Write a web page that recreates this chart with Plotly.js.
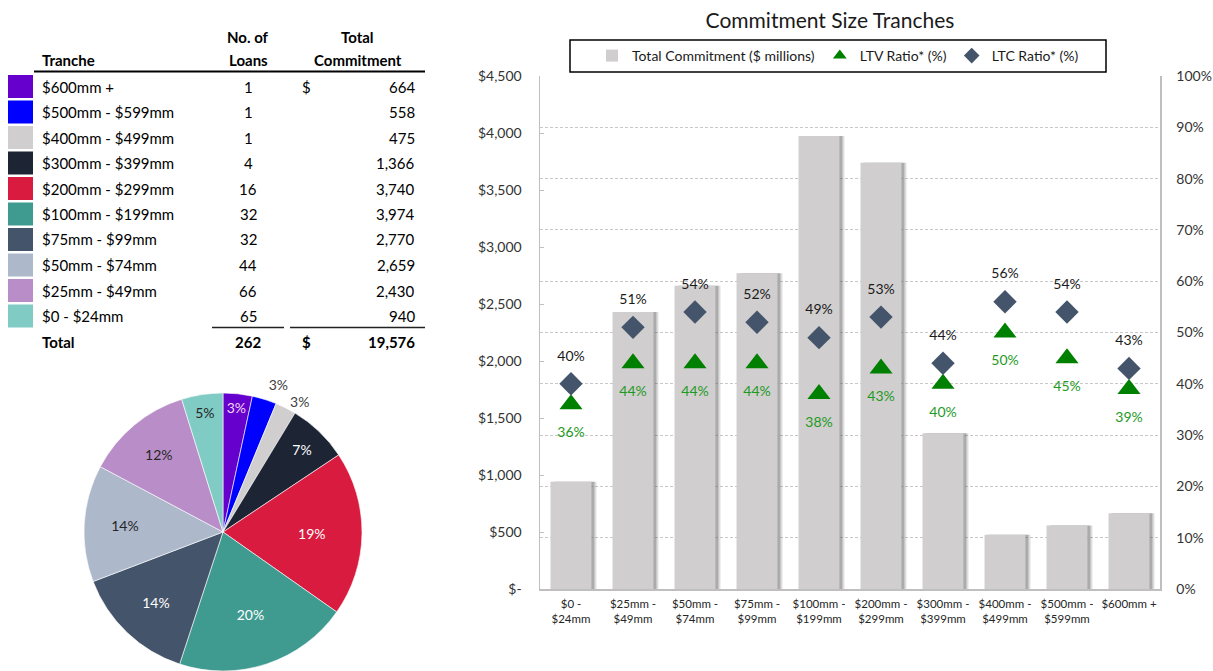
<!DOCTYPE html>
<html><head><meta charset="utf-8">
<script src="https://cdn.plot.ly/plotly-3.0.1.min.js"></script>
<style>html,body{margin:0;padding:0;background:#fff}#chart{width:1213px;height:671px}</style>
</head><body><div id="chart"></div>
<script>
// ---- data (chart order: smallest tranche first) ----
const tranches = ["$0 - $24mm","$25mm - $49mm","$50mm - $74mm","$75mm - $99mm","$100mm - $199mm","$200mm - $299mm","$300mm - $399mm","$400mm - $499mm","$500mm - $599mm","$600mm +"];
const xTickLabels = ["$0 -<br>$24mm","$25mm -<br>$49mm","$50mm -<br>$74mm","$75mm -<br>$99mm","$100mm -<br>$199mm","$200mm -<br>$299mm","$300mm -<br>$399mm","$400mm -<br>$499mm","$500mm -<br>$599mm","$600mm +"];
const loans = [65,66,44,32,32,16,4,1,1,1];
const commitment = [940,2430,2659,2770,3974,3740,1366,475,558,664];
const ltvRatio = [0.36,0.44,0.44,0.44,0.38,0.43,0.40,0.50,0.45,0.39];
const ltcRatio = [0.40,0.51,0.54,0.52,0.49,0.53,0.44,0.56,0.54,0.43];
const piePctLabels = ["5%","12%","14%","14%","20%","19%","7%","3%","3%","3%"];
const trancheColors = ["#80CBC4","#B98EC8","#ADB9CB","#44546A","#3F9A90","#D81B3F","#1D2434","#D0CECE","#0000FF","#6600CC"];
const pieTextColors = ["#262626","#262626","#262626","#FFFFFF","#FFFFFF","#FFFFFF","#FFFFFF","#404040","#404040","#F3D6F3"];
const pieTextPos = ["inside","inside","inside","inside","inside","inside","inside","outside","outside","inside"];
const leftTickVals = [0,500,1000,1500,2000,2500,3000,3500,4000,4500];
const leftTickText = ["$-","$500","$1,000","$1,500","$2,000","$2,500","$3,000","$3,500","$4,000","$4,500"];
const seriesNames = ["Total Commitment ($ millions)","LTV Ratio* (%)","LTC Ratio* (%)"];

const W = 1213, H = 671;
const px = x => x / W;
const py = y => 1 - y / H;
const FONT = "Lato, 'Open Sans', sans-serif";
const pct = v => Math.round(v * 100) + "%";

// pie text: outside labels get their colour through a span so the (white) leader line stays invisible
const pieTemplates = pieTextPos.map((p, i) =>
  p === 'outside' ? '<span style="color:' + pieTextColors[i] + '">%{text}</span>' : '%{text}');

// ---- traces ----
const barWidth = 0.66;
const traces = [
  {type:'bar', x:xTickLabels, y:commitment, width:barWidth, offset:-barWidth/2 + 3/62,
   marker:{color:'rgba(90,90,90,0.38)'}, showlegend:false, hoverinfo:'skip'},
  {type:'bar', x:xTickLabels, y:commitment, width:barWidth, offset:-barWidth/2 + 5/62,
   marker:{color:'rgba(90,90,90,0.2)'}, showlegend:false, hoverinfo:'skip'},
  {type:'bar', name:seriesNames[0], x:xTickLabels, y:commitment, width:barWidth, offset:-barWidth/2,
   marker:{color:'#D0CECE'}},
  {type:'scatter', mode:'markers', name:seriesNames[1], x:xTickLabels, y:ltvRatio, yaxis:'y2',
   marker:{symbol:'triangle-up', size:20, color:'#008000'}},
  {type:'scatter', mode:'markers', name:seriesNames[2], x:xTickLabels, y:ltcRatio, yaxis:'y2',
   marker:{symbol:'diamond', size:18, color:'#44546A'}},
  {type:'scatter', mode:'markers+text', x:xTickLabels, y:ltvRatio, yaxis:'y2', showlegend:false,
   text:ltvRatio.map(pct), textposition:'bottom center', textfont:{size:14, color:'#1E9A1E', family:FONT},
   marker:{size:34, opacity:0}, hoverinfo:'skip'},
  {type:'scatter', mode:'markers+text', x:xTickLabels, y:ltcRatio, yaxis:'y2', showlegend:false,
   text:ltcRatio.map(pct), textposition:'top center', textfont:{size:14, color:'#1a1a1a', family:FONT},
   marker:{size:30, opacity:0}, hoverinfo:'skip'},
  {type:'pie', values:commitment.slice().reverse(), labels:tranches.slice().reverse(),
   text:piePctLabels.slice().reverse(), texttemplate:pieTemplates.slice().reverse(),
   sort:false, direction:'clockwise', rotation:0,
   marker:{colors:trancheColors.slice().reverse(), line:{color:'#ffffff', width:0.6}},
   textposition:pieTextPos.slice().reverse(), insidetextorientation:'horizontal',
   textfont:{size:14, family:FONT, color:pieTextColors.slice().reverse()},
   outsidetextfont:{size:14, family:FONT, color:'#ffffff'},
   domain:{x:[px(84), px(362)], y:[py(671), py(393)]}, showlegend:false, hoverinfo:'none'}
];

// ---- table (largest tranche first) ----
const annotations = [];
const shapes = [];
function txt(t, x, y, anchor) {
  annotations.push({text:t, x:px(x), y:py(y), xref:'paper', yref:'paper',
    xanchor:anchor, yanchor:'middle', showarrow:false, font:{size:15, family:FONT, color:'#000'}});
}
txt('<b>Tranche</b>', 40, 60, 'left');
txt('<b>No. of</b>', 248, 37, 'center');
txt('<b>Loans</b>', 248, 60, 'center');
txt('<b>Total</b>', 357, 37, 'center');
txt('<b>Commitment</b>', 358, 60, 'center');
shapes.push({type:'line', xref:'paper', yref:'paper', x0:px(34), x1:px(425), y0:py(71.5), y1:py(71.5), line:{color:'#000', width:2}});
const n = tranches.length;
for (let i = 0; i < n; i++) {
  const k = n - 1 - i;
  const yc = 86.5 + i * 25.5;
  shapes.push({type:'rect', xref:'paper', yref:'paper', x0:px(8), x1:px(33), y0:py(yc + 11.5), y1:py(yc - 11.5),
    fillcolor:trancheColors[k], line:{width:0}});
  txt(tranches[k], 40, yc, 'left');
  txt(String(loans[k]), 248, yc, 'center');
  txt(commitment[k].toLocaleString('en-US'), 417, yc, 'right');
  if (i === 0) txt('$', 300, yc, 'left');
}
shapes.push({type:'line', xref:'paper', yref:'paper', x0:px(212), x1:px(284), y0:py(327.5), y1:py(327.5), line:{color:'#222', width:1.5}});
shapes.push({type:'line', xref:'paper', yref:'paper', x0:px(290), x1:px(425), y0:py(327.5), y1:py(327.5), line:{color:'#222', width:1.5}});
const totalLoans = loans.reduce((a, b) => a + b, 0);
const totalCommit = commitment.reduce((a, b) => a + b, 0);
txt('<b>Total</b>', 40, 342, 'left');
txt('<b>' + totalLoans + '</b>', 248, 342, 'center');
txt('<b>$</b>', 300, 342, 'left');
txt('<b>' + totalCommit.toLocaleString('en-US') + '</b>', 417, 342, 'right');

// legend box
shapes.push({type:'rect', xref:'paper', yref:'paper', x0:px(570), x1:px(1106), y0:py(72), y1:py(40),
  line:{color:'#000', width:1.5}, fillcolor:'rgba(0,0,0,0)'});

const layout = {
  width:W, height:H, margin:{l:0, r:0, t:0, b:0}, paper_bgcolor:'#fff', plot_bgcolor:'#fff',
  font:{family:FONT, color:'#333'},
  hovermode:false, barmode:'overlay',
  title:{text:'Commitment Size Tranches', x:px(830), xanchor:'center', y:py(21), yanchor:'middle',
    font:{size:21, color:'#1a1a1a', family:FONT}},
  xaxis:{domain:[px(540), px(1160)], type:'category', range:[-0.5, 9.5], tickangle:0,
    showline:true, linecolor:'#BFBFBF', linewidth:1.5, ticks:'', showgrid:false,
    tickfont:{size:11.5, color:'#262626'}, ticklabelstandoff:4, fixedrange:true},
  yaxis:{domain:[py(589), py(76)], range:[0, 4500], tickvals:leftTickVals, ticktext:leftTickText,
    showline:true, linecolor:'#BFBFBF', linewidth:1.5, ticks:'inside', ticklen:4, tickcolor:'#BFBFBF',
    showgrid:false, zeroline:false, tickfont:{size:14, color:'#333'}, ticklabelstandoff:14, fixedrange:true},
  yaxis2:{overlaying:'y', side:'right', range:[0, 1], dtick:0.1, tickformat:'.0%',
    showline:true, linecolor:'#BFBFBF', linewidth:1.5, ticks:'', showgrid:true, gridcolor:'#C8C8C8',
    griddash:'3px,2px', gridwidth:1, zeroline:false, tickfont:{size:14, color:'#333'}, ticklabelstandoff:12, fixedrange:true},
  legend:{orientation:'h', x:px(838), xanchor:'center', y:py(56), yanchor:'middle',
    bgcolor:'rgba(0,0,0,0)', borderwidth:0, font:{size:14, color:'#1a1a1a'}, itemsizing:'constant'},
  annotations:annotations, shapes:shapes
};
Plotly.newPlot('chart', traces, layout, {displayModeBar:false, staticPlot:true});
</script></body></html>
